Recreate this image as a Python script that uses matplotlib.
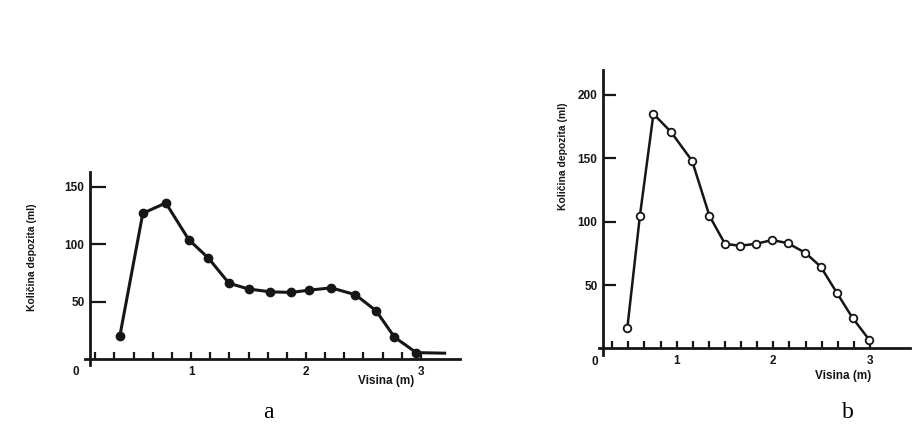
import numpy as np
import matplotlib
matplotlib.use('Agg')
import matplotlib.pyplot as plt

# panel a: deposit amount vs height (filled markers)
a_height = [0.38, 0.58, 0.78, 0.98, 1.15, 1.33, 1.50, 1.69, 1.87, 2.03, 2.22, 2.43, 2.61, 2.77, 2.96]
a_amount = [20, 127, 136, 104, 88, 66, 61, 58.5, 58, 60, 62, 56, 42, 19, 5.5]
a_tail_height = [2.96, 3.22]
a_tail_amount = [5.5, 5]

# panel b: deposit amount vs height (open markers)
b_height = [0.49, 0.62, 0.76, 0.94, 1.16, 1.34, 1.50, 1.655, 1.82, 1.99, 2.15, 2.33, 2.49, 2.66, 2.82, 2.99]
b_amount = [16, 104.5, 185, 171, 148, 104.5, 82.5, 81, 82.5, 85.5, 83, 75.5, 64.5, 43.5, 24, 7]

a_yticks = [50, 100, 150]
b_yticks = [50, 100, 150, 200]
x_labels = {1: '1', 2: '2', 3: '3'}

ink = '#161616'
sans = 'Liberation Sans'

fig = plt.figure(figsize=(9.19, 4.30), dpi=100)
fig.patch.set_facecolor('white')


def setup(ax, xlim, ylim, yaxis_at, first_tick, yticks, ytick_len, ylabel_pos, xlabel_pos, zero_pos):
    ax.set_xlim(*xlim)
    ax.set_ylim(*ylim)
    ax.set_facecolor('none')
    for s in ['top', 'right']:
        ax.spines[s].set_visible(False)
    ax.spines['left'].set_position(('data', yaxis_at))
    ax.spines['bottom'].set_position(('data', 0))
    for s in ['left', 'bottom']:
        ax.spines[s].set_linewidth(2.0)
        ax.spines[s].set_color(ink)

    ticks = np.arange(first_tick, 19) / 6.0
    ax.set_xticks(ticks)
    ax.set_xticklabels([x_labels.get(int(round(t)), '') if abs(t - round(t)) < 1e-6 else '' for t in ticks])
    ax.tick_params(axis='x', direction='in', length=5, width=1.6, color=ink, pad=5,
                   labelsize=8.5, labelcolor=ink)
    ax.set_yticks(yticks)
    ax.tick_params(axis='y', direction='in', length=ytick_len, width=1.6, color=ink, pad=4,
                   labelsize=8.5, labelcolor=ink)
    for lab in ax.get_xticklabels() + ax.get_yticklabels():
        lab.set_fontweight('bold')
        lab.set_family(sans)

    fig.text(ylabel_pos[0] / 919, 1 - ylabel_pos[1] / 430, 'Količina depozita (ml)', rotation=90,
             ha='center', va='center', fontsize=7.5, fontweight='bold', family=sans, color=ink)
    fig.text(xlabel_pos[0] / 919, 1 - xlabel_pos[1] / 430, 'Visina (m)',
             ha='center', va='center', fontsize=8.5, fontweight='bold', family=sans, color=ink)
    fig.text(zero_pos[0] / 919, 1 - zero_pos[1] / 430, '0',
             ha='center', va='center', fontsize=8.5, fontweight='bold', family=sans, color=ink)


# panel a
ax_a = fig.add_axes([0.0929, 0.1519, 0.4076, 0.4481])
setup(ax_a, (0.08, 3.34), (-5, 163), 0.12, 1, a_yticks, 11.5, (32, 257), (386, 381), (76, 372))
ax_a.plot(a_tail_height, a_tail_amount, color=ink, lw=2.2, solid_capstyle='butt')
ax_a.plot(a_height, a_amount, color=ink, lw=2.2, marker='o', markersize=6,
          markerfacecolor=ink, markeredgecolor=ink)

# panel b
ax_b = fig.add_axes([0.6521, 0.1751, 0.3377, 0.663])
setup(ax_b, (0.20, 3.41), (-5, 220), 0.24, 2, b_yticks, 9.5, (563, 156), (843, 376), (595, 362))
ax_b.plot(b_height, b_amount, color=ink, lw=1.8, marker='o', markersize=5.5,
          markerfacecolor='white', markeredgecolor=ink, markeredgewidth=1.3)

fig.text(268 / 919, 1 - 413 / 430, 'a', ha='center', va='center', fontsize=17,
         family='Liberation Serif', color='black')
fig.text(848 / 919, 1 - 413 / 430, 'b', ha='center', va='center', fontsize=17,
         family='Liberation Serif', color='black')

fig.savefig('out.png', dpi=100, facecolor='white')
